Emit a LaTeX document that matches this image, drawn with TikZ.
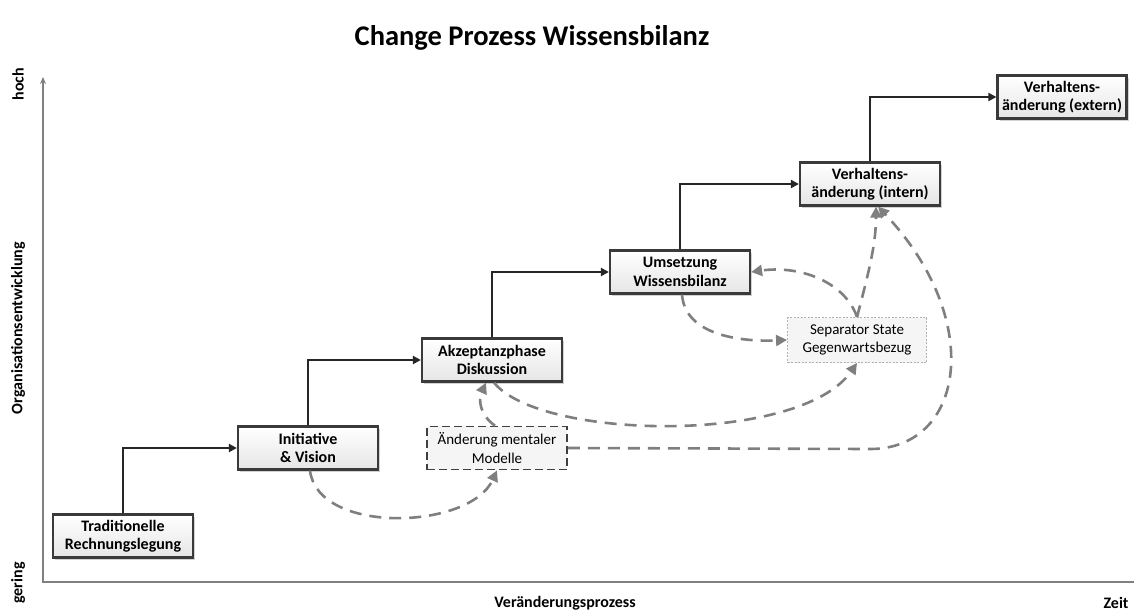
\documentclass[tikz,border=0pt]{standalone}
\usepackage{fontspec}
\setmainfont{Carlito}
\usetikzlibrary{arrows.meta,shadows}
\definecolor{axisgray}{HTML}{808080}
\definecolor{dashgray}{HTML}{7F7F7F}
\definecolor{boxborder}{HTML}{3A3A3A}
\tikzset{
  stagebox/.style={draw=boxborder, line width=2.2pt, top color=white, bottom color=black!10,
    minimum width=140pt, minimum height=43pt, align=center, font=\fontsize{16}{18.5}\selectfont\bfseries,
    drop shadow={shadow xshift=2pt, shadow yshift=-2pt, fill=black!35}},
  mentalbox/.style={draw=black!75, line width=1.6pt, dash pattern=on 8pt off 4pt, fill=black!4,
    minimum width=140pt, minimum height=43pt, align=center, font=\fontsize{15}{18.5}\selectfont},
  sepbox/.style={draw=black!30, line width=0.9pt, dash pattern=on 2pt off 1.5pt, fill=black!4,
    minimum width=139pt, minimum height=45pt, align=center, font=\fontsize{15}{18.5}\selectfont},
  stepline/.style={draw=black!85, line width=2pt, -{Triangle[length=8pt,width=8pt]}},
  dashline/.style={draw=dashgray, line width=2.6pt, dash pattern=on 12pt off 8pt, -{Triangle[length=11pt,width=11pt]}},
  axisline/.style={draw=axisgray, line width=2.8pt},
  axislabel/.style={font=\fontsize{16}{18}\selectfont\bfseries},
}
\begin{document}
\begin{tikzpicture}[x=1pt,y=-1pt]
\useasboundingbox (0,0) rectangle (1134,611);
% title
\node (title) at (532,38) {\fontsize{28.5}{32}\selectfont\bfseries Change Prozess Wissensbilanz};
% axes
\coordinate (ytop) at (43,77);
\coordinate (origin) at (43,582);
\coordinate (xend) at (1134,582);
\draw[axisline, {Stealth[length=7pt,width=6pt]}-] (ytop) -- (origin) -- (xend);
\node[axislabel, rotate=90] (hoch) at (18,84) {hoch};
\node[axislabel, rotate=90] (orga) at (18,328) {Organisationsentwicklung};
\node[axislabel, rotate=90] (gering) at (18,583) {gering};
\node[axislabel] (vproz) at (565,603) {Veränderungsprozess};
\node[axislabel] (zeit) at (1116,603) {Zeit};
% stage boxes
\node[stagebox] (b1) at (123,536) {Traditionelle\\Rechnungslegung};
\node[stagebox] (b2) at (308,448) {Initiative\\\& Vision};
\node[stagebox] (b3) at (492,360) {Akzeptanzphase\\Diskussion};
\node[stagebox] (b4) at (680,272) {Umsetzung\\Wissensbilanz};
\node[stagebox] (b5) at (870,184) {Verhaltens-\\änderung (intern)};
\node[stagebox, minimum width=129pt] (b6) at (1062,97) {Verhaltens-\\änderung (extern)};
\node[mentalbox] (mm) at (497,448) {Änderung mentaler\\Modelle};
\node[sepbox] (sep) at (857,340) {Separator State\\Gegenwartsbezug};
% steps
\draw[stepline] (b1.north) |- (b2.west);
\draw[stepline] (b2.north) |- (b3.west);
\draw[stepline] (b3.north) |- (b4.west);
\draw[stepline] (b4.north) |- (b5.west);
\draw[stepline] (b5.north) |- (b6.west);
% dashed feedback curves
\draw[dashline] ([xshift=2pt]b2.south) .. controls (318,535) and (470,530) .. (mm.south);
\draw[dashline] ([xshift=-2pt]mm.north) .. controls (480,415) and (478,400) .. ([xshift=-6pt]b3.south);
\draw[dashline] ([xshift=2pt]b3.south) .. controls (540,440) and (800,445) .. (sep.south);
\draw[dashline] (mm.east) -- (870,449) .. controls (965,449) and (985,320) .. ([xshift=8pt]b5.south);
\draw[dashline] (sep.north) .. controls (868,275) and (876,245) .. ([xshift=6pt]b5.south);
\draw[dashline] (sep.north) .. controls (845,282) and (800,265) .. (b4.east);
\draw[dashline] ([xshift=2pt]b4.south) .. controls (685,335) and (740,342) .. (sep.west);
\end{tikzpicture}
\end{document}
